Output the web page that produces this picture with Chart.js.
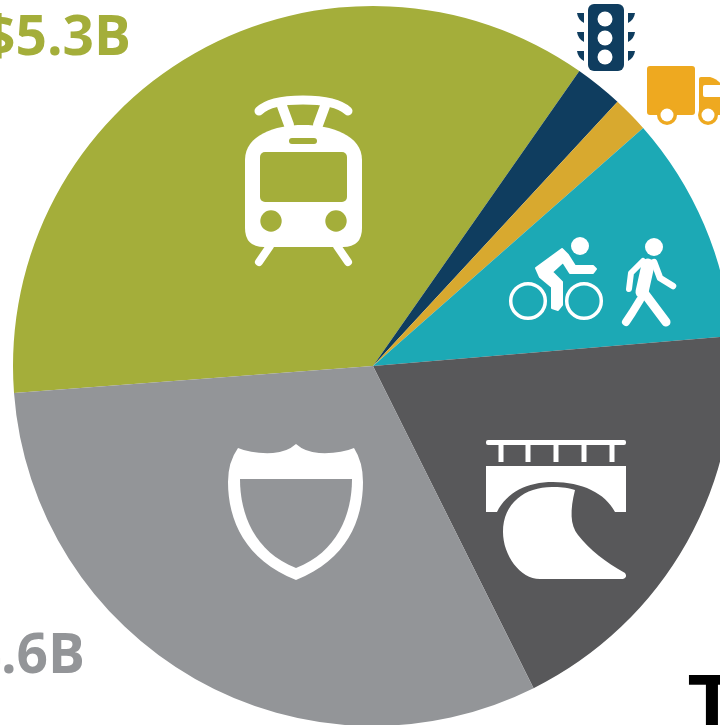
<!DOCTYPE html>
<html><head><meta charset="utf-8">
<style>html,body{margin:0;padding:0;background:#fff;width:720px;height:725px;overflow:hidden}canvas{display:block}</style>
<script src="https://cdn.jsdelivr.net/npm/chart.js@4"></script>
</head><body><canvas id="c" width="800" height="760" style="width:800px;height:760px"></canvas>
<script>
const categories=["Transit","Signals","Freight","Bike and pedestrian","Bridges","Highways"];
const billions=[5.3,0.32,0.24,1.5,2.8,4.6];
const sliceColors=["#a4ae3a","#0f3d5f","#d8a92f","#1ca9b5","#58585a","#939598"];
const valueLabels=[
 {text:"$5.3B",x:131,y:55,color:"#a4ae3a",font:"700 55px 'Open Sans'"},
 {text:"$4.6B",x:85,y:673,color:"#939598",font:"700 55px 'Open Sans'"},
 {text:"T",x:736,y:733,color:"#000",font:"900 80px Lato"}
];
const W="#fff";
function poly(c,pts,w){c.beginPath();pts.forEach((p,i)=>i?c.lineTo(p[0],p[1]):c.moveTo(p[0],p[1]));c.lineWidth=w;c.lineCap="round";c.lineJoin="round";c.strokeStyle=W;c.stroke();}
function dot(c,x,y,r,col){c.beginPath();c.arc(x,y,r,0,Math.PI*2);c.fillStyle=col;c.fill();}
function rr(c,x,y,w,h,r,col){c.beginPath();c.roundRect(x,y,w,h,r);c.fillStyle=col;c.fill();}
function train(c){
 const o="#a4ae3a";
 c.beginPath();c.moveTo(259,111);c.quadraticCurveTo(270,100,303,100);c.quadraticCurveTo(336,100,348,111);
 c.lineWidth=9;c.lineCap="round";c.strokeStyle=W;c.stroke();
 poly(c,[[282,106],[289,125]],10);poly(c,[[325,106],[318,125]],10);
 poly(c,[[270,246],[259,262]],8);poly(c,[[337,246],[348,262]],8);
 c.beginPath();c.moveTo(245,160);c.bezierCurveTo(245,135,275,125,303,125);c.bezierCurveTo(331,125,362,135,362,160);
 c.lineTo(362,228);c.quadraticCurveTo(362,247,343,247);c.lineTo(264,247);c.quadraticCurveTo(245,247,245,228);c.closePath();c.fillStyle=W;c.fill();
 rr(c,289,138,28,6,3,o);rr(c,260,152,87,50,5,o);dot(c,271,221,10.7,o);dot(c,336,221,10.7,o);
}
function signal(c){
 const n="#0f3d5f";rr(c,588,4,36,67,6,n);
 [19,38,57].forEach(y=>{dot(c,605,y,7.5,W);
  c.fillStyle=n;c.beginPath();c.moveTo(577,y-6);c.lineTo(584,y-6);c.lineTo(584,y+4);c.quadraticCurveTo(578,y+1,577,y-6);c.fill();
  c.beginPath();c.moveTo(635,y-6);c.lineTo(628,y-6);c.lineTo(628,y+4);c.quadraticCurveTo(634,y+1,635,y-6);c.fill();});
}
function truck(c){
 const g="#eea920";rr(c,647,66,48,49,3,g);
 c.beginPath();c.moveTo(699,115);c.lineTo(699,79);c.quadraticCurveTo(699,77,701,77);c.lineTo(710,77);c.quadraticCurveTo(716,78,722,85);c.lineTo(722,115);c.closePath();c.fillStyle=g;c.fill();
 rr(c,703,85,20,12,2,W);
 dot(c,667,115,10,g);dot(c,667,115,6.5,W);dot(c,708,115,10,g);dot(c,708,115,6.5,W);
}
function bike(c){
 [528,584].forEach(x=>{c.beginPath();c.arc(x,301,17.3,0,Math.PI*2);c.lineWidth=3.5;c.strokeStyle=W;c.stroke();});
 dot(c,580,246,9,W);
 const p=[[536,268],[562,249],[568,255],[575,266],[593,266],[596,269],[593,273],[570,273],[563,262],[552,272],[562,282],[562,305],[558,310],[552,308],[552,287],[540,277]];
 c.beginPath();p.forEach((q,i)=>i?c.lineTo(q[0],q[1]):c.moveTo(q[0],q[1]));c.closePath();c.fillStyle=W;c.fill();c.lineWidth=2;c.lineJoin="round";c.strokeStyle=W;c.stroke();
}
function walker(c){
 dot(c,654,247,9,W);
 poly(c,[[648,265],[642,292]],13);
 poly(c,[[643,261],[631,273],[629,289]],6);
 poly(c,[[654,262],[660,278],[673,286]],6.5);
 poly(c,[[642,290],[666,322]],9);
 poly(c,[[640,300],[632,313],[626,322]],8);
}
function bridge(c){
 rr(c,486,440,140,5,2,W);
 [501,528,556,584,612].forEach(x=>{c.fillStyle=W;c.fillRect(x-2.5,444,5,18);});
 c.fillStyle=W;c.beginPath();c.moveTo(486,466);c.lineTo(626,466);c.lineTo(626,512);c.lineTo(615,512);
 c.bezierCurveTo(605,493,582,482,553,482);c.bezierCurveTo(527,482,507,492,497,512);c.lineTo(486,512);c.closePath();c.fill();
 c.beginPath();c.moveTo(575,490);c.bezierCurveTo(565,487,560,487,552,487);c.bezierCurveTo(525,487,503,503,503,532);c.bezierCurveTo(503,555,520,579,540,579);
 c.lineTo(623,579);c.quadraticCurveTo(628,577,625,573);c.bezierCurveTo(605,562,590,550,578,535);c.bezierCurveTo(570,525,570,510,575,490);c.closePath();c.fill();
}
function shield(c){
 c.fillStyle=W;c.beginPath();c.moveTo(296,444);c.quadraticCurveTo(287,452,273,453);c.quadraticCurveTo(252,454,238,448);
 c.quadraticCurveTo(228,462,228,482);c.bezierCurveTo(228,520,245,560,296,580);c.bezierCurveTo(347,560,363,520,363,482);
 c.quadraticCurveTo(363,462,354,448);c.quadraticCurveTo(340,454,319,453);c.quadraticCurveTo(305,452,296,444);c.closePath();c.fill();
 c.fillStyle="#939598";c.beginPath();c.moveTo(240,479);c.lineTo(352,479);c.bezierCurveTo(352,515,337,552,296,568);c.bezierCurveTo(255,552,240,515,240,479);c.closePath();c.fill();
}
const overlay={id:"overlay",afterDraw(chart){const c=chart.ctx;c.save();
 [train,signal,truck,bike,walker,bridge,shield].forEach(f=>f(c));
 c.textAlign="right";c.textBaseline="alphabetic";
 valueLabels.forEach(l=>{c.font=l.font;c.fillStyle=l.color;c.fillText(l.text,l.x,l.y);});
 c.restore();}};
new Chart(document.getElementById("c"),{type:"pie",
 data:{labels:categories,datasets:[{data:billions,backgroundColor:sliceColors,borderWidth:0,hoverOffset:0}]},
 options:{responsive:false,animation:false,rotation:265.7,
  layout:{padding:{left:13,right:67,top:6,bottom:34}},
  plugins:{legend:{display:false},tooltip:{enabled:false}}},
 plugins:[overlay]});
</script></body></html>
